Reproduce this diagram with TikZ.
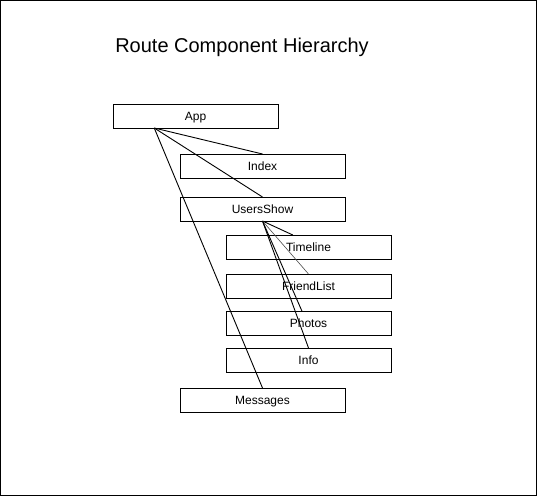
\documentclass[tikz,border=0pt]{standalone}
\usepackage{fontspec}
\setmainfont{Liberation Sans}
\usepackage{xcolor}
\usepackage{tikz}
\usetikzlibrary{shapes,arrows,positioning,fit,calc}

\begin{document}
\begin{tikzpicture}[x=1pt, y=-1pt, node distance=15pt,
    comp/.style={rectangle, draw, line width=0.9pt, minimum width=165pt, minimum height=24pt,
        inner sep=0pt, outer sep=0pt, text height=9pt, text depth=0.6pt,
        font=\fontsize{12}{14}\selectfont},
    link/.style={line width=0.9pt},
    thinlink/.style={line width=0.6pt, draw=black!70}]
    \useasboundingbox (0,0) rectangle (537,496);
    \draw [line width=0.9pt] (0.5,0.5) rectangle (536.5,495.5);

    \node (title) at (242,47) {\fontsize{20}{24}\selectfont Route Component Hierarchy};

    \node (app) [comp] at (195.5,116) {App};
    \node (index) [comp, below=26pt of app, xshift=67pt] {Index};
    \node (usersshow) [comp, below=19pt of index] {UsersShow};
    \node (timeline) [comp, below=14pt of usersshow, xshift=46pt] {Timeline};
    \node (friendlist) [comp, below=15pt of timeline] {FriendList};
    \node (photos) [comp, below=13pt of friendlist] {Photos};
    \node (info) [comp, below=13pt of photos] {Info};
    \node (messages) [comp, below=16pt of info, xshift=-46pt] {Messages};

    \coordinate (appout) at ($(app.south west)!0.25!(app.south east)$);
    \draw [link] (appout) -- (index.north);
    \draw [link] (appout) -- (usersshow.north);
    \draw [link] (appout) -- (messages.north);

    \draw [link] (usersshow.south) -- ($(timeline.north west)!0.405!(timeline.north east)$);
    \draw [thinlink] (usersshow.south) -- (friendlist.north);
    \draw [link] (usersshow.south) -- ($(photos.north west)!0.46!(photos.north east)$);
    \draw [link] (usersshow.south) -- (info.north);
\end{tikzpicture}
\end{document}
